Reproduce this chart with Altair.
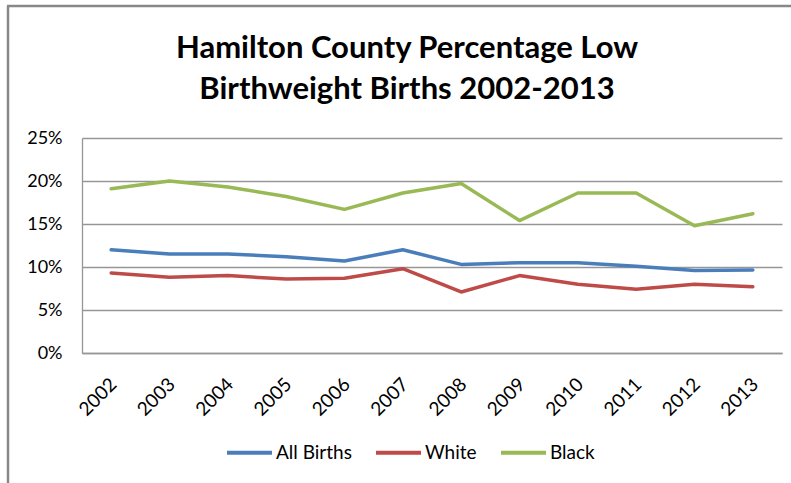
import altair as alt
import pandas as pd

years = ["2002", "2003", "2004", "2005", "2006", "2007",
         "2008", "2009", "2010", "2011", "2012", "2013"]
all_births = [12.0, 11.5, 11.5, 11.2, 10.7, 12.0, 10.3, 10.5, 10.5, 10.1, 9.6, 9.65]
white = [9.3, 8.8, 9.0, 8.6, 8.7, 9.8, 7.1, 9.0, 8.0, 7.4, 8.0, 7.7]
black = [19.1, 20.0, 19.3, 18.2, 16.7, 18.6, 19.7, 15.4, 18.6, 18.6, 14.8, 16.2]

series_names = ["All Births", "White", "Black"]
series_colors = ["#4A7EBB", "#BE4B48", "#98B954"]
title_lines = ["Hamilton County Percentage Low", "Birthweight Births 2002-2013"]

rows = []
for name, vals in zip(series_names, [all_births, white, black]):
    for yr, v in zip(years, vals):
        rows.append({"Year": yr, "Series": name, "Rate": v / 100.0})
df = pd.DataFrame(rows)

FONT = "Lato"
GRID = "#969696"

lines = alt.Chart(df).mark_line(strokeWidth=3.5, strokeCap="round", strokeJoin="round").encode(
    x=alt.X("Year:O", sort=years, title=None,
            scale=alt.Scale(type="point", padding=0.5),
            axis=alt.Axis(labelAngle=-45, labelAlign="right", labelBaseline="middle",
                          labelFont=FONT, labelFontSize=19, labelColor="#000000",
                          labelPadding=28, labelOffset=2, ticks=False,
                          domainColor=GRID, domainWidth=1.3, grid=False)),
    y=alt.Y("Rate:Q", title=None,
            scale=alt.Scale(domain=[0, 0.25], nice=False),
            axis=alt.Axis(format=".0%", values=[0, 0.05, 0.10, 0.15, 0.20, 0.25],
                          labelFont=FONT, labelFontSize=18, labelColor="#000000",
                          labelPadding=20, ticks=False, domainColor=GRID, domainWidth=1.3,
                          gridColor=GRID, gridWidth=1.3)),
    color=alt.Color("Series:N",
                    scale=alt.Scale(domain=series_names, range=series_colors),
                    legend=alt.Legend(title=None, orient="none", direction="horizontal",
                                      legendX=143, legendY=290, padding=0,
                                      symbolType="stroke", symbolStrokeWidth=4,
                                      symbolSize=2025, labelFont=FONT, labelFontSize=19,
                                      labelColor="#000000", labelOffset=2,
                                      columnPadding=16)),
)

title = alt.Chart(pd.DataFrame({"t": [0]})).mark_text(
    text=title_lines, font=FONT, fontSize=31, fontWeight="bold", color="#000000",
    align="center", baseline="alphabetic", lineHeight=41,
).encode(x=alt.value(325), y=alt.value(-80))

# chart-area frame (left and top edges)
frame_left = alt.Chart(pd.DataFrame({"t": [0]})).mark_rule(color="#888888", strokeWidth=2.5).encode(
    x=alt.value(-74), y=alt.value(-132), y2=alt.value(345))
frame_top = alt.Chart(pd.DataFrame({"t": [0]})).mark_rule(color="#888888", strokeWidth=2.5).encode(
    x=alt.value(-75), x2=alt.value(709), y=alt.value(-132))

chart = alt.layer(frame_left, frame_top, lines, title).properties(
    width=700, height=215,
    padding={"left": 82, "top": 138, "right": 9, "bottom": 130},
    autosize=alt.AutoSizeParams(type="none"),
    background="#ffffff",
).configure_view(stroke=None)

chart.save("out.html", embed_options={"renderer": "svg", "actions": False})
